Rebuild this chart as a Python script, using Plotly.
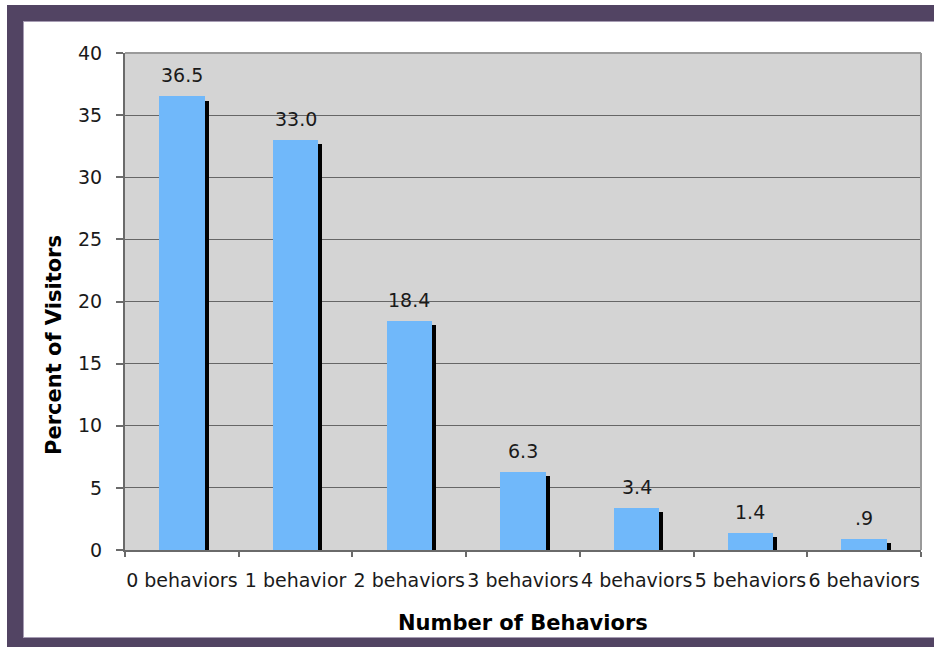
import plotly.graph_objects as go

# Distribution of visitors by number of behaviors observed
categories = ["0 behaviors", "1 behavior", "2 behaviors", "3 behaviors",
              "4 behaviors", "5 behaviors", "6 behaviors"]
percent = [36.5, 33.0, 18.4, 6.3, 3.4, 1.4, 0.9]
value_labels = ["36.5", "33.0", "18.4", "6.3", "3.4", "1.4", ".9"]
y_ticks = [0, 5, 10, 15, 20, 25, 30, 35, 40]

W, H = 934, 647
L, R, T, B = 125, 13, 53, 97
PW, PH = W - L - R, H - T - B

FONT = "DejaVu Sans"
BAR_BLUE = "#70b8fa"
FRAME = "#524463"
AXIS = "#6a6a6a"


def px_x(x):
    return (x - L) / PW


def px_y(y):
    return (H - B - y) / PH


fig = go.Figure()

# drop shadow behind each bar (shifted right and down a few pixels)
fig.add_trace(go.Bar(
    x=categories, y=percent, base=-0.33,
    width=0.4, offset=-0.165,
    marker=dict(color="black", line=dict(width=0)),
    hoverinfo="skip", showlegend=False,
))
fig.add_trace(go.Bar(
    x=categories, y=percent,
    width=0.4, offset=-0.2,
    marker=dict(color=BAR_BLUE, line=dict(width=0)),
    showlegend=False,
))

annotations = []
for cat, v, lab in zip(categories, percent, value_labels):
    annotations.append(dict(
        x=cat, y=v, xref="x", yref="y", text=lab, showarrow=False,
        yanchor="bottom", xanchor="center", yshift=8,
        font=dict(family=FONT, size=19, color="#1a1a1a"),
    ))

annotations.append(dict(
    x=px_x(54), y=px_y(345), xref="paper", yref="paper",
    text="<b>Percent of Visitors</b>", textangle=-90, showarrow=False,
    xanchor="center", yanchor="middle",
    font=dict(family=FONT, size=21, color="black"),
))
annotations.append(dict(
    x=0.5, y=px_y(623), xref="paper", yref="paper",
    text="<b>Number of Behaviors</b>", showarrow=False,
    xanchor="center", yanchor="middle",
    font=dict(family=FONT, size=21, color="black"),
))

shapes = []
# purple page frame
for x0, y0, x1, y1 in [(7, 5, 934, 21), (7, 5, 23, 647), (7, 638, 934, 647)]:
    shapes.append(dict(type="rect", xref="paper", yref="paper", layer="above",
                       x0=px_x(x0), x1=px_x(x1), y0=px_y(y0), y1=px_y(y1),
                       fillcolor=FRAME, line=dict(width=0)))
for x0, y0, x1, y1 in [(23, 21.5, 934, 21.5), (23.5, 21, 23.5, 638), (23, 637.5, 934, 637.5)]:
    shapes.append(dict(type="line", xref="paper", yref="paper", layer="above",
                       x0=px_x(x0), x1=px_x(x1), y0=px_y(y0), y1=px_y(y1),
                       line=dict(color="#a69cb3", width=1)))
# light border on top and right of the plot area
shapes.append(dict(type="line", xref="paper", yref="paper", x0=0, x1=1, y0=1, y1=1,
                   line=dict(color="#9a9a9a", width=2), layer="above"))
shapes.append(dict(type="line", xref="paper", yref="paper", x0=1, x1=1, y0=0, y1=1,
                   line=dict(color="#9a9a9a", width=2), layer="above"))

fig.update_layout(
    width=W, height=H,
    margin=dict(l=L, r=R, t=T, b=B, autoexpand=False),
    paper_bgcolor="white",
    plot_bgcolor="#d4d4d4",
    barmode="overlay",
    bargap=0,
    annotations=annotations,
    shapes=shapes,
    font=dict(family=FONT, size=19, color="#1a1a1a"),
    xaxis=dict(
        type="category", categoryorder="array", categoryarray=categories,
        tickson="boundaries", ticks="outside", ticklen=5, tickwidth=1.5,
        tickcolor=AXIS, showline=True, linecolor=AXIS, linewidth=2,
        showgrid=False, ticklabelstandoff=12, fixedrange=True,
        tickangle=0, automargin=False,
        tickfont=dict(family=FONT, size=19, color="#1a1a1a"),
    ),
    yaxis=dict(
        range=[0, 40], tickvals=y_ticks, ticks="outside", ticklen=7, tickwidth=1.5,
        tickcolor=AXIS, showline=True, linecolor=AXIS, linewidth=2,
        showgrid=True, gridcolor="#666666", gridwidth=1, zeroline=False,
        ticklabelstandoff=10, fixedrange=True, automargin=False,
        tickfont=dict(family=FONT, size=19, color="#1a1a1a"),
    ),
)

fig.write_html("out.html")
